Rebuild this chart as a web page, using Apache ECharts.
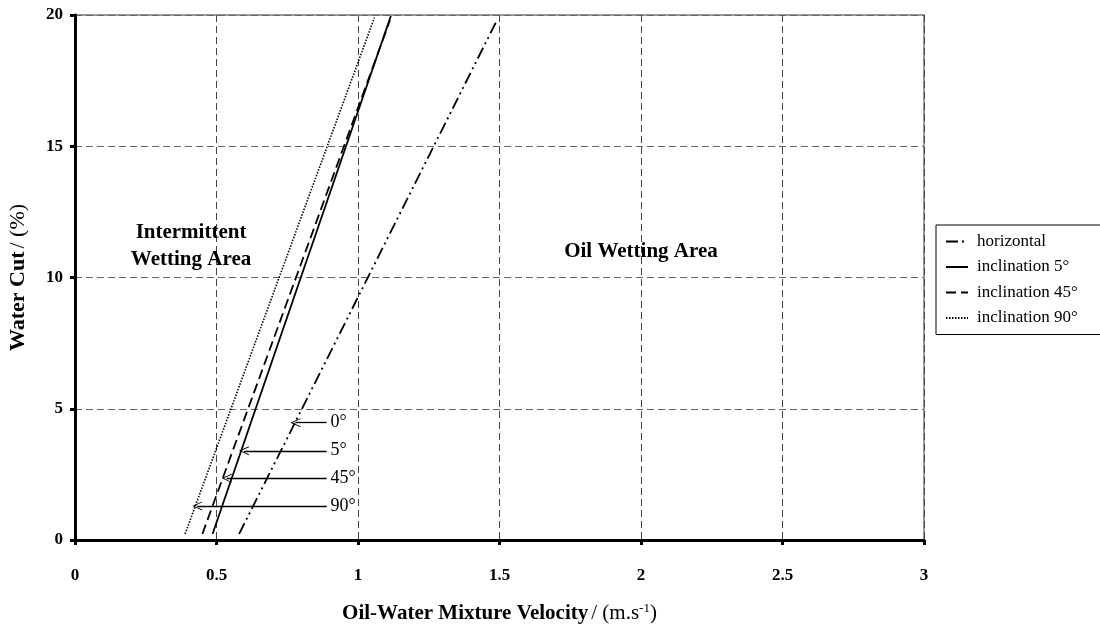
<!DOCTYPE html>
<html>
<head>
<meta charset="utf-8">
<style>
  html, body { margin: 0; padding: 0; background: #fff; }
  #chart { width: 1100px; height: 628px; }
</style>
<script src="https://cdn.jsdelivr.net/npm/echarts@6/dist/echarts.min.js"></script>
</head>
<body>
<div id="chart"></div>
<script>
// data (velocity m/s, water cut %)
const seriesNames = ['horizontal', 'inclination 5°', 'inclination 45°', 'inclination 90°'];
const horizontalX = [0.58, 1.491];
const horizontalY = [0.23, 19.8];
const incl5X = [0.486, 1.116];
const incl5Y = [0.23, 19.96];
const incl45X = [0.450, 1.113];
const incl45Y = [0.23, 19.8];
const incl90X = [0.389, 1.058];
const incl90Y = [0.23, 19.9];

const arrowLabels = ['0°', '5°', '45°', '90°'];
const arrowY = [4.47, 3.40, 2.35, 1.30];
const arrowHeadX = [0.779, 0.597, 0.536, 0.432];
const arrowTailX = [0.889, 0.889, 0.889, 0.889];

const areaLabels = ['Intermittent\nWetting Area', 'Oil Wetting Area'];
const areaX = [0.41, 2.0];
const areaY = [11.2, 11.0];

const xTicks = [0, 0.5, 1, 1.5, 2, 2.5, 3];
const yTicks = [0, 5, 10, 15, 20];

const FONT = '"Liberation Serif", "DejaVu Serif", serif';

function pairs(xs, ys) {
  return xs.map((x, i) => [x, ys[i]]);
}

const lineTypes = [[12, 4, 2, 4, 2, 4], 'solid', [10, 5], [1.5, 1.5]];
const lineData = [
  pairs(horizontalX, horizontalY),
  pairs(incl5X, incl5Y),
  pairs(incl45X, incl45Y),
  pairs(incl90X, incl90Y),
];

const chevron = 'path://M0,0 L6,12 L4.8,12 L0,2.6 L-4.8,12 L-6,12 Z';

let option = {
  animation: false,
  backgroundColor: '#fff',
  textStyle: { fontFamily: FONT },
  grid: {
    left: 75, right: 176, top: 15, bottom: 88,
    outerBoundsMode: 'none',
    containLabel: false,
    show: true,
    borderColor: '#999',
    borderWidth: 2,
    backgroundColor: 'transparent',
  },
  legend: {
    orient: 'vertical',
    left: 936,
    top: 225,
    padding: [8, 40, 8, 9],
    itemWidth: 22,
    itemHeight: 14,
    itemGap: 8.5,
    backgroundColor: '#fff',
    borderColor: '#000',
    borderWidth: 1,
    borderRadius: 0,
    itemStyle: { color: 'transparent', borderWidth: 0, opacity: 0 },
    textStyle: { fontFamily: FONT, fontSize: 17, color: '#000', padding: [0, 0, 0, 4] },
    data: seriesNames,
  },
  xAxis: {
    type: 'value',
    min: 0, max: 3, interval: 0.5,
    name: '{b|Oil-Water Mixture Velocity} {r|/ (m.s}{s|-1}{r|)}',
    nameLocation: 'middle',
    nameGap: 62,
    nameTextStyle: {
      rich: {
        b: { fontFamily: FONT, fontSize: 21, fontWeight: 'bold', color: '#000' },
        r: { fontFamily: FONT, fontSize: 21, color: '#000' },
        s: { fontFamily: FONT, fontSize: 13, color: '#000', verticalAlign: 'top', padding: [0, 0, 10, 0] },
      },
    },
    axisLine: { lineStyle: { color: '#000', width: 3 } },
    axisTick: { show: true, length: 5, lineStyle: { color: '#000', width: 3 } },
    axisLabel: {
      margin: 27,
      fontFamily: FONT, fontSize: 17, fontWeight: 'bold', color: '#000',
      formatter: v => xTicks.includes(v) ? String(v) : '',
    },
    splitLine: { show: true, lineStyle: { color: '#444', type: [7, 4], width: 1 } },
  },
  yAxis: {
    type: 'value',
    min: 0, max: 20, interval: 5,
    name: '{b|Water Cut} {r|/ (%)}',
    nameLocation: 'middle',
    nameGap: 46,
    nameTextStyle: {
      rich: {
        b: { fontFamily: FONT, fontSize: 22, fontWeight: 'bold', color: '#000' },
        r: { fontFamily: FONT, fontSize: 22, color: '#000' },
      },
    },
    axisLine: { show: true, lineStyle: { color: '#000', width: 3 } },
    axisTick: { show: true, length: 5, lineStyle: { color: '#000', width: 3 } },
    axisLabel: {
      margin: 12,
      fontFamily: FONT, fontSize: 17, fontWeight: 'bold', color: '#000',
      formatter: v => yTicks.includes(v) ? String(v) : '',
    },
    splitLine: { show: true, lineStyle: { color: '#666', type: [7, 4], width: 1 } },
  },
  series: [],
};

seriesNames.forEach((name, i) => {
  option.series.push({
    name: name,
    type: 'line',
    symbol: 'none',
    data: lineData[i],
    lineStyle: { color: '#000', width: i === 3 ? 1.6 : 1.8, type: lineTypes[i] },
    itemStyle: { color: '#000' },
    z: 3,
  });
});

// arrow labels with arrows pointing to the lines
option.series.push({
  name: 'arrows',
  type: 'scatter',
  symbolSize: 0,
  silent: true,
  itemStyle: { opacity: 1 },
  data: arrowLabels.map((t, i) => ({ value: [arrowTailX[i], arrowY[i]], name: t })),
  label: {
    show: true,
    position: 'right',
    distance: 4,
    formatter: p => p.name,
    fontFamily: FONT, fontSize: 18, color: '#000',
  },
  markLine: {
    silent: true,
    symbol: ['none', chevron],
    symbolSize: [9, 10],
    label: { show: false },
    lineStyle: { color: '#000', width: 1.3, type: 'solid' },
    data: arrowLabels.map((t, i) => [
      { coord: [arrowTailX[i], arrowY[i]] },
      { coord: [arrowHeadX[i], arrowY[i]] },
    ]),
  },
  z: 4,
});

// area labels
option.series.push({
  name: 'areas',
  type: 'scatter',
  symbolSize: 0,
  silent: true,
  itemStyle: { opacity: 1 },
  data: areaLabels.map((t, i) => ({ value: [areaX[i], areaY[i]], name: t })),
  label: {
    show: true,
    position: 'inside',
    formatter: p => p.name,
    fontFamily: FONT, fontSize: 21, fontWeight: 'bold', color: '#000',
    lineHeight: 27,
    align: 'center',
  },
  z: 4,
});

let chart = echarts.init(document.getElementById('chart'));
chart.setOption(option);
</script>
</body>
</html>
